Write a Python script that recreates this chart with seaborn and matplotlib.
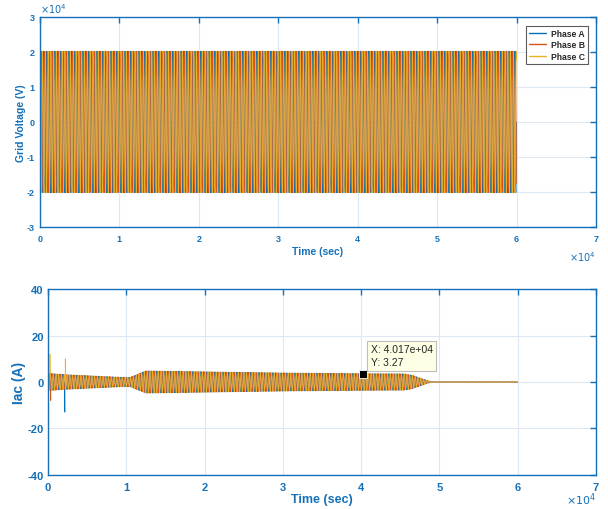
import numpy as np
import pandas as pd
import matplotlib
matplotlib.use("Agg")
import matplotlib.pyplot as plt
from matplotlib.ticker import FuncFormatter
import seaborn as sns

# ---- data ----
phases = ["Phase A", "Phase B", "Phase C"]
phase_colors = ["#0072BD", "#D95319", "#EDB120"]
phase_shift_deg = [0, -120, 120]

t_end = 6.0e4
n_cycles = 170
pts_per_cycle = 9

# grid voltage envelope (V)
v_env_t = [0, 6.0e4]
v_env_amp = [2.05e4, 2.05e4]

# Iac envelope (A)
i_env_t = [0, 500, 2000, 5000, 10000, 10500, 12500, 20000, 30000, 40000, 45500, 46500, 48500, 49000, 60000]
i_env_amp = [3.8, 3.7, 3.3, 2.8, 2.0, 2.1, 4.9, 4.5, 4.0, 3.7, 3.6, 3.0, 0.6, 0.15, 0.15]

# transient spikes per phase: (time, value)
spike_t = {"Phase A": [60, 2150], "Phase B": [30, 350], "Phase C": [250, 2200]}
spike_v = {"Phase A": [32, -13], "Phase B": [-40, -8], "Phase C": [12, 10]}

tip_x, tip_y = 4.017e4, 3.27

x_ticks = [0, 1, 2, 3, 4, 5, 6, 7]
v_ticks = [-3, -2, -1, 0, 1, 2, 3]
i_ticks = [-40, -20, 0, 20, 40]

# ---- build waveforms ----
t = np.linspace(0, t_end, n_cycles * pts_per_cycle + 1)
rows_v, rows_i = [], []
for ph, sh in zip(phases, phase_shift_deg):
    carrier = np.sin(2 * np.pi * n_cycles * t / t_end + np.deg2rad(sh))
    v = np.interp(t, v_env_t, v_env_amp) * carrier
    rows_v.append(pd.DataFrame({"t": t, "val": v, "phase": ph}))
    i = np.interp(t, i_env_t, i_env_amp) * carrier
    ti = np.concatenate([t, spike_t[ph]])
    iv = np.concatenate([i, spike_v[ph]])
    order = np.argsort(ti, kind="stable")
    rows_i.append(pd.DataFrame({"t": ti[order], "val": iv[order], "phase": ph}))
df_v = pd.concat(rows_v, ignore_index=True)
df_i = pd.concat(rows_i, ignore_index=True)

# ---- styling ----
sns.set_style("white")
plt.rcParams["font.family"] = ["Liberation Sans", "DejaVu Sans"]
plt.rcParams["axes.unicode_minus"] = False
AX = "#1570B8"
GRID = "#DDE8F2"
pal = dict(zip(phases, phase_colors))

fig = plt.figure(figsize=(6.08, 5.10), dpi=100)
ax1 = fig.add_axes([0.0658, 0.553, 0.9145, 0.412])
ax2 = fig.add_axes([0.079, 0.067, 0.9013, 0.364])

sns.lineplot(data=df_v, x="t", y="val", hue="phase", hue_order=phases,
             palette=pal, estimator=None, sort=False, lw=0.5, ax=ax1)
sns.lineplot(data=df_i, x="t", y="val", hue="phase", hue_order=phases,
             palette=pal, estimator=None, sort=False, lw=0.5, ax=ax2,
             legend=False)

fmt_x = FuncFormatter(lambda v, p: f"{v / 1e4:g}")
for ax in (ax1, ax2):
    ax.set_xlim(0, 7e4)
    ax.set_xticks([x * 1e4 for x in x_ticks])
    ax.xaxis.set_major_formatter(fmt_x)
    ax.grid(True, color=GRID, lw=0.8)
    ax.set_axisbelow(True)
    for s in ax.spines.values():
        s.set_color(AX)
        s.set_linewidth(1.0)
    ax.tick_params(direction="in", colors=AX, top=True, right=True,
                   length=4, width=1.0)

ax1.set_ylim(-3e4, 3e4)
ax1.set_yticks([v * 1e4 for v in v_ticks])
ax1.yaxis.set_major_formatter(FuncFormatter(lambda v, p: f"{v / 1e4:g}"))
for lab in ax1.get_xticklabels() + ax1.get_yticklabels():
    lab.set_fontsize(6.5)
    lab.set_fontweight("bold")
ax1.tick_params(axis="x", pad=5)
ax1.tick_params(axis="y", pad=4)
ax1.set_xlabel("Time (sec)", fontsize=7.5, fontweight="bold", color=AX, labelpad=2)
ax1.set_ylabel("Grid Voltage (V)", fontsize=7.5, fontweight="bold", color=AX, labelpad=0)
ax1.text(0.0, 1.01, r"$\times10^{4}$", transform=ax1.transAxes, fontsize=7,
         color=AX, ha="left", va="bottom")
ax1.text(1.0, -0.105, r"$\times10^{4}$", transform=ax1.transAxes, fontsize=7,
         color=AX, ha="right", va="top")

leg = ax1.legend(loc="upper right", bbox_to_anchor=(0.986, 0.957),
                 frameon=True, fancybox=False, handlelength=2.0,
                 handletextpad=0.5, borderpad=0.4, labelspacing=0.25,
                 borderaxespad=0.0,
                 prop={"weight": "bold", "size": 6.2})
leg.get_frame().set_edgecolor("#333333")
leg.get_frame().set_linewidth(0.8)
for line in leg.get_lines():
    line.set_linewidth(1.0)

ax2.set_ylim(-40, 40)
ax2.set_yticks(i_ticks)
for lab in ax2.get_xticklabels() + ax2.get_yticklabels():
    lab.set_fontsize(8)
    lab.set_fontweight("bold")
ax2.tick_params(axis="x", pad=5)
ax2.tick_params(axis="y", pad=3)
ax2.set_xlabel("Time (sec)", fontsize=9, fontweight="bold", color=AX, labelpad=1)
ax2.set_ylabel("Iac (A)", fontsize=10, fontweight="bold", color=AX, labelpad=1)
ax2.text(1.0, -0.085, r"$\times10^{4}$", transform=ax2.transAxes, fontsize=8,
         color=AX, ha="right", va="top")

# data tip
ax2.plot([tip_x], [tip_y], marker="s", color="black", markersize=6,
         markeredgecolor="white", markeredgewidth=0.6, zorder=6)
ax2.annotate(f"X: {tip_x:.3e}\nY: {tip_y:.2f}",
             xy=(tip_x, tip_y), xytext=(6, 5), textcoords="offset points",
             fontsize=7.5, ha="left", va="bottom", linespacing=1.4,
             bbox=dict(boxstyle="square,pad=0.35", fc="#FFFFE6", ec="#BDBDBD", lw=0.8),
             zorder=7)

fig.savefig("out.png", dpi=100)
